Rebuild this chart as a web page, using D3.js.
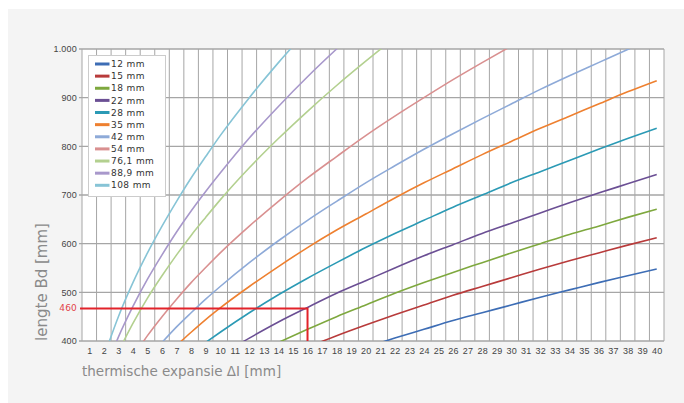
<!DOCTYPE html>
<html>
<head>
<meta charset="utf-8">
<script src="https://cdn.jsdelivr.net/npm/d3@7"></script>
<style>
  html, body { margin: 0; padding: 0; background: #ffffff; }
  svg { display: block; font-family: "DejaVu Sans", sans-serif; }
  .tickTxt { font-size: 9px; fill: #444; letter-spacing: 0.2px; }
  .axisTitle { font-size: 13.5px; fill: #8a8a8a; }
  .legendTxt { font-size: 9px; fill: #333; letter-spacing: 0.4px; }
</style>
</head>
<body>
<div id="chart"></div>
<script>
// pipe sizes shown in the legend
var sizes = ['12 mm', '15 mm', '18 mm', '22 mm', '28 mm', '35 mm', '42 mm', '54 mm', '76,1 mm', '88,9 mm', '108 mm'];
var colors = ['#3d6db5', '#b83b3b', '#7ea83e', '#6b4f94', '#2b9ab5', '#ee8030', '#8eaad8', '#d99090', '#b3d08f', '#a898cb', '#87c4d6'];

// x ticks (thermische expansie in mm) and y ticks (lengte Bd in mm)
var xTicks = d3.range(1, 41);
var yTicks = [400, 500, 600, 700, 800, 900, 1000];

// series values: [expansie, lengte]
var bd12 = [[20, 387], [22, 406], [24, 424], [26, 442], [28, 458], [30, 474], [32, 490], [34, 505], [36, 520], [38, 534], [40, 548]];
var bd15 = [[16, 387], [18, 411], [20, 433], [22, 454], [24, 474], [26, 494], [28, 512], [30, 530], [32, 548], [34, 565], [36, 581], [38, 597], [40, 612]];
var bd18 = [[14, 397], [16, 424], [18, 450], [20, 474], [22, 498], [24, 520], [26, 541], [28, 561], [30, 581], [32, 600], [34, 619], [36, 636], [38, 654], [40, 671]];
var bd22 = [[10, 371], [12, 406], [14, 439], [16, 469], [18, 498], [20, 524], [22, 550], [24, 575], [26, 598], [28, 621], [30, 642], [32, 663], [34, 684], [36, 704], [38, 723], [40, 742]];
var bd28 = [[9, 397], [10, 418], [12, 458], [14, 495], [16, 529], [18, 561], [20, 592], [22, 621], [24, 648], [26, 675], [28, 700], [30, 725], [32, 748], [34, 771], [36, 794], [38, 816], [40, 837]];
var bd35 = [[7, 391], [8, 418], [9, 444], [10, 468], [12, 512], [14, 553], [16, 592], [18, 628], [20, 661], [22, 694], [24, 725], [26, 754], [28, 783], [30, 810], [32, 837], [34, 862], [36, 887], [38, 912], [40, 935]];
var bd42 = [[6, 397], [7, 429], [8, 458], [9, 486], [10, 512], [12, 561], [14, 606], [16, 648], [18, 687], [20, 725], [22, 760], [24, 794], [26, 826], [28, 857], [30, 887], [32, 917], [34, 945], [36, 972], [38, 999], [40, 1025]];
var bd54 = [[4, 367], [5, 411], [6, 450], [7, 486], [8, 520], [9, 551], [10, 581], [12, 636], [14, 687], [16, 735], [18, 779], [20, 822], [22, 862], [24, 900], [26, 937], [28, 972], [30, 1006]];
var bd76 = [[3, 378], [4, 436], [5, 488], [6, 534], [7, 577], [8, 617], [9, 654], [10, 690], [12, 756], [14, 816], [16, 872], [18, 925], [20, 975], [22, 1023]];
var bd89 = [[2, 333], [3, 408], [4, 471], [5, 527], [6, 577], [7, 624], [8, 667], [9, 707], [10, 745], [12, 817], [14, 882], [16, 943], [18, 1000], [20, 1054]];
var bd108 = [[2, 367], [3, 450], [4, 520], [5, 581], [6, 636], [7, 687], [8, 735], [9, 779], [10, 822], [12, 900], [14, 972], [16, 1039]];
var seriesData = [bd12, bd15, bd18, bd22, bd28, bd35, bd42, bd54, bd76, bd89, bd108];

// marked reading in the chart
var refExpansie = 16;
var refLengte = 467;
var refLabel = '460';

var W = 684, H = 403;
var plot = {left: 82, right: 664, top: 49, bottom: 341};

var svg = d3.select('#chart').append('svg')
   .attr('width', W)
   .attr('height', H);

// grey panel behind the chart
svg.append('rect')
   .attr('x', 8).attr('y', 9)
   .attr('width', W - 8).attr('height', H - 9)
   .attr('fill', '#f4f4f4');

svg.append('rect')
   .attr('x', plot.left).attr('y', plot.top)
   .attr('width', plot.right - plot.left).attr('height', plot.bottom - plot.top)
   .attr('fill', '#ffffff');

var x = d3.scaleLinear().domain([0.5, 40.5]).range([plot.left, plot.right]);
var y = d3.scaleLinear().domain([400, 1000]).range([plot.bottom, plot.top]);

var nl = d3.formatLocale({decimal: ',', thousands: '.', grouping: [3], currency: ['€', '']});
var fmt = nl.format(',');

// vertical grid at the category boundaries
svg.append('g').selectAll('line')
   .data(d3.range(0, 41))
   .enter()
   .append('line')
      .attr('x1', function(d){ return x(d + 0.5); })
      .attr('x2', function(d){ return x(d + 0.5); })
      .attr('y1', plot.top)
      .attr('y2', plot.bottom)
      .attr('stroke', '#a6a6a6')
      .attr('stroke-width', 1);

// horizontal grid
svg.append('g').selectAll('line')
   .data(yTicks)
   .enter()
   .append('line')
      .attr('x1', plot.left - 3)
      .attr('x2', plot.right)
      .attr('y1', function(d){ return y(d); })
      .attr('y2', function(d){ return y(d); })
      .attr('stroke', '#a6a6a6')
      .attr('stroke-width', 1.3);

// y tick labels
var yAxis = svg.append('g')
   .attr('transform', 'translate(' + (plot.left - 5) + ',0)')
   .call(d3.axisLeft(y).tickValues(yTicks).tickSize(0).tickPadding(0).tickFormat(fmt));
yAxis.select('.domain').remove();
yAxis.selectAll('text').attr('class', 'tickTxt').attr('font-family', null).attr('font-size', null);

// x tick labels
var xAxis = svg.append('g')
   .attr('transform', 'translate(0,' + (plot.bottom + 7) + ')')
   .call(d3.axisBottom(x).tickValues(xTicks).tickSize(0).tickPadding(0).tickFormat(d3.format('d')));
xAxis.select('.domain').remove();
xAxis.selectAll('text').attr('class', 'tickTxt').attr('font-family', null).attr('font-size', null);

// curves, clipped to the plot area
svg.append('clipPath').attr('id', 'plotClip')
   .append('rect')
   .attr('x', plot.left).attr('y', plot.top)
   .attr('width', plot.right - plot.left).attr('height', plot.bottom - plot.top);

var line = d3.line()
   .x(function(d){ return x(d[0]); })
   .y(function(d){ return y(d[1]); })
   .curve(d3.curveMonotoneX);

svg.append('g')
   .attr('clip-path', 'url(#plotClip)')
   .selectAll('path')
   .data(seriesData)
   .enter()
   .append('path')
      .attr('d', line)
      .attr('fill', 'none')
      .attr('stroke', function(d, i){ return colors[i]; })
      .attr('stroke-width', 1.6);

// red reading lines
var ry = y(refLengte);
svg.append('path')
   .attr('d', 'M' + (plot.left - 2) + ',' + ry + 'H' + x(refExpansie) + 'V' + plot.bottom)
   .attr('fill', 'none')
   .attr('stroke', '#e2232a')
   .attr('stroke-width', 2);

svg.append('text')
   .attr('class', 'tickTxt')
   .attr('x', plot.left - 5)
   .attr('y', ry)
   .attr('dy', '0.32em')
   .attr('text-anchor', 'end')
   .style('fill', '#e2434a')
   .text(refLabel);

// legend
var legend = svg.append('g').attr('transform', 'translate(88.5,55.5)');
legend.append('rect')
   .attr('width', 77).attr('height', 141)
   .attr('fill', '#ffffff')
   .attr('stroke', '#cccccc');

var item = legend.selectAll('g.item')
   .data(sizes)
   .enter()
   .append('g')
      .attr('class', 'item')
      .attr('transform', function(d, i){ return 'translate(0,' + (8.5 + i * 12.13) + ')'; });

item.append('line')
   .attr('x1', 6.5).attr('x2', 21)
   .attr('stroke', function(d, i){ return colors[i]; })
   .attr('stroke-width', 3);

item.append('text')
   .attr('class', 'legendTxt')
   .attr('x', 22.5)
   .attr('dy', '0.35em')
   .text(function(d){ return d; });

// axis titles
svg.append('text')
   .attr('class', 'axisTitle')
   .attr('x', plot.left)
   .attr('y', 376)
   .text('thermische expansie ΔI [mm]');

svg.append('text')
   .attr('class', 'axisTitle')
   .attr('transform', 'translate(47,282) rotate(-90)')
   .attr('text-anchor', 'middle')
   .style('font-size', '15px')
   .text('lengte Bd [mm]');
</script>
</body>
</html>
